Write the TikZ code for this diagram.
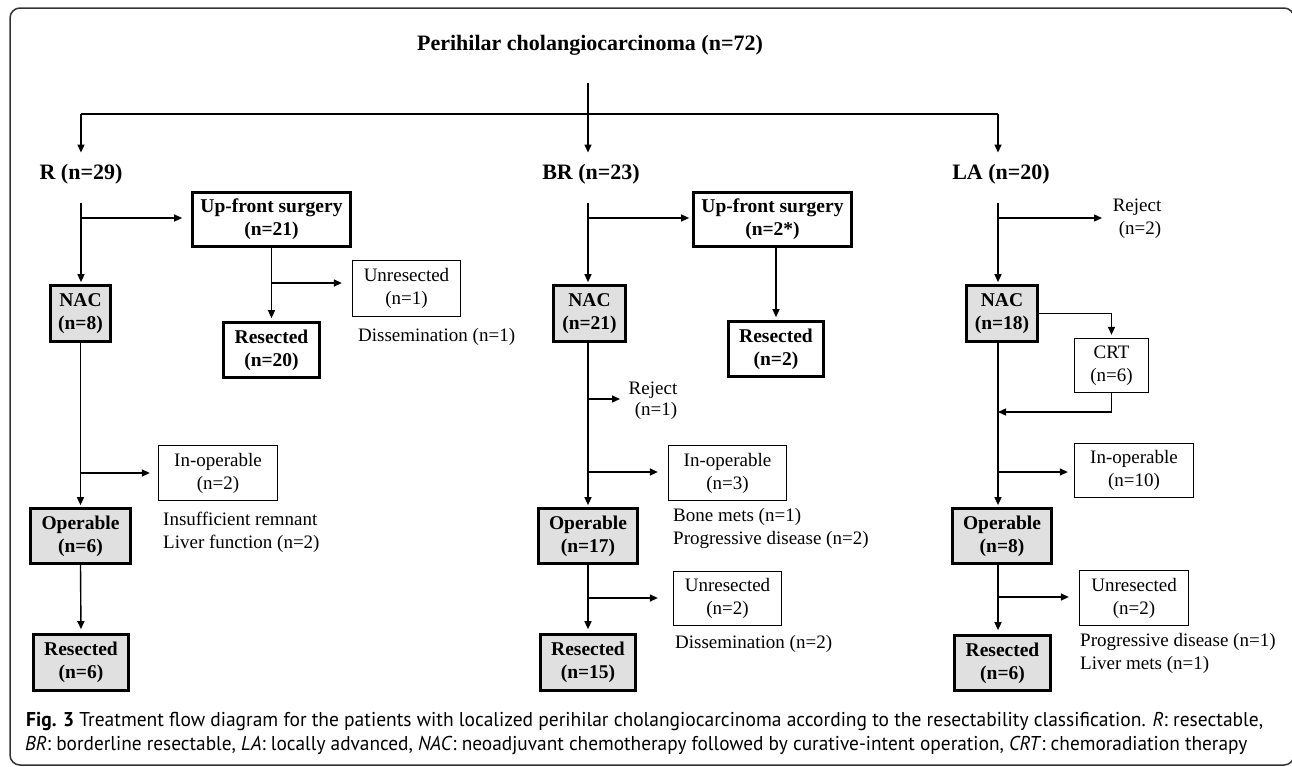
\documentclass[tikz,border=0pt]{standalone}
\usepackage{fontspec}
\setmainfont{Liberation Serif}
\newfontfamily\capfont{PT Sans}
\usetikzlibrary{arrows.meta,calc}
\definecolor{boxgray}{RGB}{224,224,224}
\definecolor{framec}{RGB}{50,50,50}
\begin{document}
\begin{tikzpicture}[x=1pt,y=-1pt,
  ln/.style={line width=1.4pt,black},
  arr/.style={ln,-{Triangle[length=8pt,width=7pt]}},
  hdr/.style={font=\fontsize{22}{26}\selectfont\bfseries,inner sep=0pt,anchor=base},
  bx/.style 2 args={minimum width=#1,minimum height=#2,inner sep=0pt,align=center},
  thick box/.style={draw,line width=2.7pt,fill=white,font=\fontsize{19.5}{23}\selectfont\bfseries},
  gray box/.style={thick box,fill=boxgray},
  thin box/.style={draw,line width=1.3pt,fill=white,font=\fontsize{19}{23}\selectfont},
  note/.style={font=\fontsize{19}{23}\selectfont,inner sep=0pt,anchor=base west},
  notec/.style={font=\fontsize{19}{23}\selectfont,inner sep=0pt,anchor=base},
]
\useasboundingbox (0,0) rectangle (1292,766);
\draw[framec,line width=1.5pt,rounded corners=10pt] (10,8) rectangle (1294,765);

% headers
\node[hdr] (tt) at (590,50) {Perihilar cholangiocarcinoma (n=72)};
\node[hdr] (hR) at (81,179) {R (n=29)};
\node[hdr] (hBR) at (591,179) {BR (n=23)};
\node[hdr] (hLA) at (1001,179) {LA (n=20)};

\coordinate (cR) at (81,0);
\coordinate (cBR) at (588,0);
\coordinate (cLA) at (998,0);
\coordinate (hbar) at (0,114);

% R column
\node[thick box,bx={158pt}{54pt}] (upR) at (271.5,219.5) {Up-front surgery\\(n=21)};
\node[gray box,bx={60pt}{56pt}] (nacR) at (80.5,313.5) {NAC\\(n=8)};
\node[thick box,bx={96pt}{55pt}] (resUpR) at (271.5,350) {Resected\\(n=20)};
\node[thin box,bx={108pt}{56pt}] (unresR) at (406.5,288.5) {Unresected\\(n=1)};
\node[note] (dissR) at (358,341) {Dissemination (n=1)};
\node[thin box,bx={119pt}{55pt}] (inopR) at (218,473) {In-operable\\(n=2)};
\node[note] (insR1) at (163,525) {Insufficient remnant};
\node[note] (insR2) at (163,548) {Liver function (n=2)};
\node[gray box,bx={100pt}{55pt}] (opR) at (80.5,536) {Operable\\(n=6)};
\node[gray box,bx={95pt}{56pt}] (resR) at (81,662.5) {Resected\\(n=6)};

% BR column
\node[thick box,bx={158pt}{54pt}] (upBR) at (772.5,219.5) {Up-front surgery\\(n=2*)};
\node[gray box,bx={72pt}{56pt}] (nacBR) at (589.5,313.5) {NAC\\(n=21)};
\node[thick box,bx={95pt}{55pt}] (resUpBR) at (776,349) {Resected\\(n=2)};
\node[notec] (rejBR1) at (653,394) {Reject};
\node[notec] (rejBR2) at (656,415) {(n=1)};
\node[thin box,bx={118pt}{55pt}] (inopBR) at (727.5,473) {In-operable\\(n=3)};
\node[note] (boneBR1) at (673,521) {Bone mets (n=1)};
\node[note] (boneBR2) at (673,544) {Progressive disease (n=2)};
\node[gray box,bx={99pt}{55pt}] (opBR) at (588,536) {Operable\\(n=17)};
\node[thin box,bx={108pt}{54pt}] (unresBR) at (727.5,598.5) {Unresected\\(n=2)};
\node[note] (dissBR) at (675,648) {Dissemination (n=2)};
\node[gray box,bx={95pt}{56pt}] (resBR) at (588,662.5) {Resected\\(n=15)};

% LA column
\node[notec] (rejLA1) at (1137,211) {Reject};
\node[notec] (rejLA2) at (1140,234) {(n=2)};
\node[gray box,bx={71pt}{56pt}] (nacLA) at (1002,313.5) {NAC\\(n=18)};
\node[thin box,bx={74pt}{54pt}] (crt) at (1111.5,365.5) {CRT\\(n=6)};
\node[thin box,bx={119pt}{54pt}] (inopLA) at (1134,470.5) {In-operable\\(n=10)};
\node[gray box,bx={99pt}{55pt}] (opLA) at (1002,536) {Operable\\(n=8)};
\node[thin box,bx={109pt}{55pt}] (unresLA) at (1134,598) {Unresected\\(n=2)};
\node[note] (progLA1) at (1080,646) {Progressive disease (n=1)};
\node[note] (progLA2) at (1080,669) {Liver mets (n=1)};
\node[gray box,bx={96pt}{55pt}] (resLA) at (1002.5,663) {Resected\\(n=6)};

% top connectors
\draw[arr,shorten <=28pt,shorten >=11pt] (cBR |- tt.south) -- (cBR |- hBR.north);
\draw[ln] (hbar -| cR) -- (hbar -| cLA);
\draw[arr,shorten >=11pt] (hbar -| cR) -- (cR |- hR.north);
\draw[arr,shorten >=11pt] (hbar -| cLA) -- (cLA |- hLA.north);

% R connectors
\coordinate (bR1) at (81,218);
\coordinate (bR2) at (271.5,283);
\coordinate (bR3) at (81,473);
\draw[arr,shorten <=19pt,shorten >=2pt] (hR.south) -- (cR |- nacR.north);
\draw[arr,shorten >=9pt] (bR1) -- (bR1 -| upR.west);
\draw[arr,shorten >=3pt] (upR.south) -- (resUpR.north);
\draw[arr,shorten >=10pt] (bR2) -- (bR2 -| unresR.west);
\draw[arr,shorten >=2pt] (nacR.south) -- (opR.north);
\draw[arr,shorten >=8pt] (bR3) -- (bR3 -| inopR.west);
\draw[arr,shorten >=4pt] (opR.south) -- (resR.north);

% BR connectors
\coordinate (bB1) at (588,218);
\coordinate (bB2) at (588,399);
\coordinate (eB2) at (620,399);
\coordinate (bB3) at (588,472);
\coordinate (bB4) at (588,598);
\draw[arr,shorten <=19pt,shorten >=2pt] (cBR |- hBR.south) -- (cBR |- nacBR.north);
\draw[arr,shorten >=3pt] (bB1) -- (bB1 -| upBR.west);
\draw[arr,shorten >=3pt] (resUpBR.north |- upBR.south) -- (resUpBR.north);
\draw[arr,shorten >=2pt] (cBR |- nacBR.south) -- (cBR |- opBR.north);
\draw[arr] (bB2) -- (eB2);
\draw[arr,shorten >=10pt] (bB3) -- (bB3 -| inopBR.west);
\draw[arr,shorten >=4pt] (cBR |- opBR.south) -- (cBR |- resBR.north);
\draw[arr,shorten >=15pt] (bB4) -- (bB4 -| unresBR.west);

% LA connectors
\coordinate (bL1) at (998,218);
\coordinate (eL1) at (1102,218);
\coordinate (jL) at (998,412);
\coordinate (bL3) at (998,472);
\coordinate (bL4) at (998,597);
\draw[arr,shorten <=19pt,shorten >=2pt] (cLA |- hLA.south) -- (cLA |- nacLA.north);
\draw[arr] (bL1) -- (eL1);
\draw[arr,shorten >=3pt] (nacLA.east) -| (crt.north);
\draw[arr] (crt.south) |- (jL);
\draw[arr,shorten >=2pt] (cLA |- nacLA.south) -- (cLA |- opLA.north);
\draw[arr,shorten >=6pt] (bL3) -- (bL3 -| inopLA.west);
\draw[arr,shorten >=4pt] (cLA |- opLA.south) -- (cLA |- resLA.north);
\draw[arr,shorten >=10pt] (bL4) -- (bL4 -| unresLA.west);

% caption
\node[inner sep=0pt,anchor=base west] (cap1) at (26,726) {\resizebox{1237pt}{\height}{\capfont\fontsize{20}{24}\selectfont\textbf{Fig. 3} Treatment flow diagram for the patients with localized perihilar cholangiocarcinoma according to the resectability classification. \textit{R}: resectable,}};
\node[inner sep=0pt,anchor=base west] (cap2) at (25,750) {\resizebox{1222pt}{\height}{\capfont\fontsize{20}{24}\selectfont\textit{BR}: borderline resectable, \textit{LA}: locally advanced, \textit{NAC}: neoadjuvant chemotherapy followed by curative-intent operation, \textit{CRT}: chemoradiation therapy}};
\end{tikzpicture}
\end{document}
